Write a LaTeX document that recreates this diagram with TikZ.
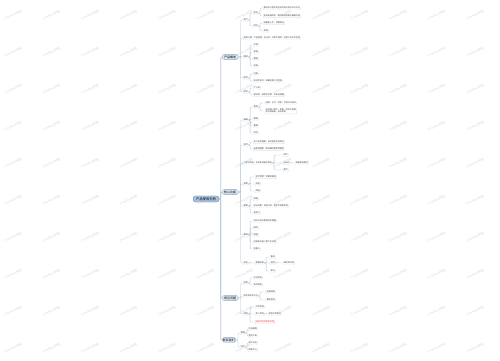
\documentclass[tikz,border=0pt]{standalone}
\usepackage{fontspec}
\setmainfont{Noto Sans CJK SC}
\usepackage[HTML]{xcolor}
\usepackage{tikz}
\usetikzlibrary{positioning}

\definecolor{linec}{HTML}{B4C6DA}
\definecolor{rootc}{HTML}{A9C4E0}
\definecolor{mainc}{HTML}{DCE7F3}
\definecolor{edgec}{HTML}{8EA8C4}
\definecolor{leafb}{HTML}{C9D2DC}
\definecolor{warnc}{HTML}{E04A4D}
\definecolor{markc}{HTML}{D6DBE1}

\tikzset{
  every node/.style={font=\fontsize{2}{2.5}\selectfont, inner sep=0.7pt, anchor=west},
  leaf/.style={draw=leafb, line width=0.2pt, rounded corners=0.8pt, fill=white, text=black!75},
  warn/.style={draw=warnc!60, text=warnc},
  topic/.style={draw=edgec, fill=mainc, line width=0.3pt, rounded corners=1.5pt,
    font=\fontsize{3}{3.6}\selectfont, inner xsep=2pt, inner ysep=1pt},
  central/.style={draw=edgec!80!black, fill=rootc, line width=0.4pt, rounded corners=2.5pt,
    font=\fontsize{3.3}{4}\selectfont, inner xsep=3pt, inner ysep=1.5pt},
  conn/.style={draw=linec, line width=0.3pt, rounded corners=1pt},
  trunk/.style={conn, line width=0.7pt},
  wm/.style={text=markc, rotate=25, font=\fontsize{3}{3}\selectfont, anchor=center}
}

\begin{document}
\begin{tikzpicture}[x=1pt, y=-1pt]
\useasboundingbox (0,0) rectangle (500,360);
\fill[white] (0,0) rectangle (500,360);

% watermark
\foreach \i in {0,...,12}
  \foreach \j in {0,...,9}
    \node[wm] at (13+38.5*\i, 15+37*\j) {TreeMind树图};

% root and main topics
\node[central] (root) at (193,199) {产品使用手册};
\node[topic] (intro) at (222,57) {产品概述};
\node[topic] (feat) at (222,192) {核心功能};
\node[topic] (faq) at (222,298) {常见问题};
\node[topic, inner xsep=0.8pt] (cont) at (222,340) {联系我们};

% intro
\node[leaf] (in1) at (243,20) {简介};
\node[leaf] (in1a) at (253,13) {定位};
\node[leaf] (in1a1) at (263,8) {面向中小团队的在线文档与协作办公平台};
\node[leaf] (in1a2) at (263,16) {支持多端同步，随时随地查看与编辑文档};
\node[leaf] (in1b) at (253,26) {特点};
\node[leaf] (in1b1) at (263,23) {轻量易上手，界面简洁};
\node[leaf] (in1b2) at (263,31) {免费};
\node[leaf] (in2) at (243,38) {适用人群：产品经理、设计师、开发工程师、运营人员与学生等};
\node[leaf] (in3) at (243,57) {模块};
\node[leaf] (in3a) at (253,45) {文档};
\node[leaf] (in3b) at (253,52) {表格};
\node[leaf] (in3c) at (253,59) {看板};
\node[leaf] (in3d) at (253,66) {白板};
\node[leaf] (in4) at (243,78) {账号};
\node[leaf] (in4a) at (253,74) {注册};
\node[leaf] (in4b) at (253,81) {支持手机号、邮箱及第三方登录};
\node[leaf] (in5) at (243,92) {版本};
\node[leaf] (in5a) at (253,88) {个人版};
\node[leaf] (in5b) at (253,95) {团队版：按席位付费，可私有部署};

% core features
\node[leaf] (ft1) at (243,120) {编辑};
\node[leaf] (ft1a) at (253,107) {排版};
\node[leaf] (ft1a1) at (265,103) {标题、正文、列表、引用与代码块};
\node[leaf, align=left] (ft1a2) at (265,111) {支持插入图片、表格、附件与视频\\及外部链接，自动排版};
\node[leaf] (ft1b) at (253,119) {撤销};
\node[leaf] (ft1c) at (253,126) {重做};
\node[leaf] (ft1d) at (253,133) {评论};
\node[leaf] (ft2) at (243,145) {协作};
\node[leaf] (ft2a) at (253,142) {多人实时编辑，自动保存历史版本};
\node[leaf] (ft2b) at (253,149) {@成员提醒，支持细粒度权限管理};
\node[leaf] (ft3) at (243,163) {分享与导出：支持多种格式导出};
\node[leaf] (ft3a) at (283,155) {PDF};
\node[leaf] (ft3b) at (283,163) {Word};
\node[leaf] (ft3b1) at (295,163) {保留原有格式};
\node[leaf] (ft3c) at (283,170) {图片};
\node[leaf] (ft4) at (243,184) {搜索};
\node[leaf] (ft4a) at (255,177) {全文检索，关键词高亮};
\node[leaf] (ft4b) at (255,184) {标签};
\node[leaf] (ft4c) at (255,191) {筛选};
\node[leaf] (ft5) at (243,206) {模板};
\node[leaf] (ft5a) at (253,199) {周报};
\node[leaf] (ft5b) at (253,206) {会议纪要、项目计划、需求文档等多种};
\node[leaf] (ft5c) at (253,213) {自定义};
\node[leaf] (ft6) at (243,235) {集成};
\node[leaf] (ft6a) at (253,221) {日历与待办事项同步提醒};
\node[leaf] (ft6b) at (253,228) {邮件};
\node[leaf] (ft6c) at (253,235) {网盘};
\node[leaf] (ft6d) at (253,242) {开放接口接入第三方应用};
\node[leaf] (ft6e) at (253,249) {机器人};
\node[leaf] (ft7) at (243,263) {安全};
\node[leaf] (ft7a) at (255,263) {数据加密};
\node[leaf] (ft7a1) at (270,257) {备份};
\node[leaf] (ft7a2) at (270,263) {权限};
\node[leaf] (ft7a2a) at (283,263) {细化到文档};
\node[leaf] (ft7a3) at (270,271) {审计};

% faq
\node[leaf] (fq1) at (243,283) {登录};
\node[leaf] (fq1a) at (253,278) {忘记密码};
\node[leaf] (fq1b) at (253,285) {账号绑定};
\node[leaf] (fq2) at (243,296) {同步失败怎么办};
\node[leaf] (fq2a) at (266,292) {检查网络};
\node[leaf] (fq2b) at (266,300) {重新登录};
\node[leaf] (fq3) at (243,314) {其他};
\node[leaf] (fq3a) at (255,307) {文件找回};
\node[leaf] (fq3b) at (255,314) {导入失败};
\node[leaf] (fq3b1) at (268,314) {检查文件格式};
\node[leaf, warn] (fq3c) at (255,322) {请及时联系客服处理};

% contact
\node[leaf] (ct1) at (240,333) {客服};
\node[leaf] (ct1a) at (248,329) {在线客服};
\node[leaf] (ct1b) at (248,336) {提交工单};
\node[leaf] (ct2) at (240,347) {社区};
\node[leaf] (ct2a) at (248,343) {用户论坛};
\node[leaf] (ct2b) at (248,350) {帮助中心};

% connectors
\foreach \c in {intro, feat, faq, cont}
  \draw[trunk] (root.east) -- ++(1.5,0) |- (\c.west);
\foreach \p/\c in {intro/in1, intro/in2, intro/in3, intro/in4, intro/in5,
    feat/ft1, feat/ft2, feat/ft3, feat/ft4, feat/ft5, feat/ft6, feat/ft7,
    faq/fq1, faq/fq2, faq/fq3}
  \draw[conn] (\p.east) -- ++(2.5,0) |- (\c.west);
\foreach \p/\c in {cont/ct1, cont/ct2}
  \draw[conn] (\p.east) -- ++(2,0) |- (\c.west);
\foreach \p/\c in {in1/in1a, in1/in1b, in1a/in1a1, in1a/in1a2, in1b/in1b1, in1b/in1b2,
    in3/in3a, in3/in3b, in3/in3c, in3/in3d, in4/in4a, in4/in4b, in5/in5a, in5/in5b,
    ft1/ft1a, ft1/ft1b, ft1/ft1c, ft1/ft1d, ft1a/ft1a1, ft1a/ft1a2,
    ft2/ft2a, ft2/ft2b, ft3/ft3a, ft3/ft3b, ft3/ft3c, ft3b/ft3b1,
    ft4/ft4a, ft4/ft4b, ft4/ft4c, ft5/ft5a, ft5/ft5b, ft5/ft5c,
    ft6/ft6a, ft6/ft6b, ft6/ft6c, ft6/ft6d, ft6/ft6e,
    ft7/ft7a, ft7a/ft7a1, ft7a/ft7a2, ft7a/ft7a3, ft7a2/ft7a2a,
    fq1/fq1a, fq1/fq1b, fq2/fq2a, fq2/fq2b, fq3/fq3a, fq3/fq3b, fq3/fq3c, fq3b/fq3b1,
    ct1/ct1a, ct1/ct1b, ct2/ct2a, ct2/ct2b}
  \draw[conn] (\p.east) -- ++(1.5,0) |- (\c.west);
\end{tikzpicture}
\end{document}
